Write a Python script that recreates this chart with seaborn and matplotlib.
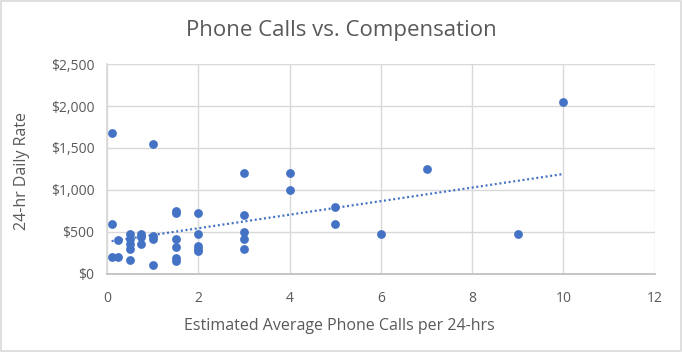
import numpy as np
import pandas as pd
import matplotlib.pyplot as plt
import seaborn as sns
from matplotlib.ticker import FuncFormatter

# estimated calls per 24 hrs vs. 24-hr daily rate ($)
calls = [0.1, 0.1, 0.1, 0.25, 0.25,
         0.5, 0.5, 0.5, 0.5, 0.5,
         0.75, 0.75, 0.75,
         1, 1, 1, 1,
         1.5, 1.5, 1.5, 1.5, 1.5, 1.5,
         2, 2, 2, 2, 2,
         3, 3, 3, 3, 3,
         4, 4, 5, 5, 6, 7, 9, 10]
rate = [1680, 600, 200, 400, 200,
        475, 420, 350, 300, 170,
        470, 440, 350,
        1550, 450, 415, 100,
        750, 720, 420, 325, 190, 150,
        720, 475, 330, 300, 270,
        1200, 700, 500, 420, 300,
        1200, 1000, 800, 600, 475, 1250, 475, 2050]

# linear trendline as shown on the chart (end points)
trend_calls = [0.1, 10]
trend_rate = [390, 1190]

df = pd.DataFrame({'calls': calls, 'rate': rate})
trend = pd.DataFrame({'calls': trend_calls, 'rate': trend_rate})

sns.set_theme(style="white")
plt.rcParams['font.family'] = ['Open Sans', 'DejaVu Sans']

text_color = '#595959'
dot_color = '#4472C4'

fig, ax = plt.subplots(figsize=(6.82, 3.52), dpi=100)
fig.subplots_adjust(left=0.157, right=0.96, top=0.818, bottom=0.222)

sns.scatterplot(data=df, x='calls', y='rate', ax=ax, color=dot_color,
                s=40, linewidth=0, zorder=3)
sns.lineplot(data=trend, x='calls', y='rate', ax=ax, color=dot_color,
             linewidth=1.6, linestyle=(0, (0.9, 1.2)), zorder=2)

ax.set_xlim(0, 12)
ax.set_ylim(0, 2500)
ax.set_xticks(range(0, 13, 2))
ax.set_yticks(range(0, 2501, 500))
ax.yaxis.set_major_formatter(FuncFormatter(lambda v, p: f"${v:,.0f}"))

ax.grid(True, color='#d9d9d9', linewidth=1)
ax.set_axisbelow(True)
for side, sp in ax.spines.items():
    sp.set_visible(side in ('left', 'bottom'))
    sp.set_color('#bfbfbf')
ax.spines['left'].set_color('#d9d9d9')
ax.tick_params(axis='both', length=0, labelsize=10, colors=text_color)
ax.tick_params(axis='x', pad=12)
ax.tick_params(axis='y', pad=9)

ax.set_xlabel('Estimated Average Phone Calls per 24-hrs', fontsize=11.5,
              color=text_color, va='center')
ax.xaxis.set_label_coords(0.425, -0.248)
ax.set_ylabel('24-hr Daily Rate', fontsize=11.5, color=text_color, va='center')
ax.yaxis.set_label_coords(-0.155, 0.49)

fig.suptitle('Phone Calls vs. Compensation', fontsize=16, color=text_color,
             x=0.5, y=0.912, va='center')

# light border around the chart area
fig.patches.append(plt.Rectangle((0.002, 0.003), 0.996, 0.994, transform=fig.transFigure,
                                 fill=False, edgecolor='#d9d9d9', linewidth=1.2))

fig.savefig('out.png', dpi=100, facecolor='white')
